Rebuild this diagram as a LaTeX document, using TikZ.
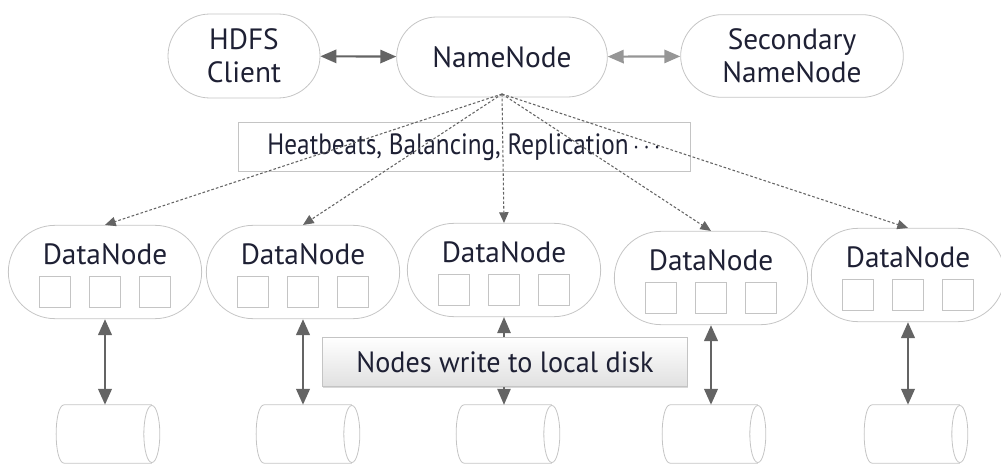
\documentclass[tikz,border=0pt]{standalone}
\usepackage{fontspec}
\setmainfont{PT Sans}
\usetikzlibrary{shapes.misc,arrows.meta,shadows}
\tikzset{every picture/.style={line width=0.75pt}}

\definecolor{rimgray}{RGB}{196,196,196}
\definecolor{darkarrow}{RGB}{100,100,100}
\definecolor{lightarrow}{RGB}{150,150,150}
\definecolor{inkblue}{RGB}{30,32,52}

\tikzset{
  pill/.style={rounded rectangle, draw=rimgray, line width=0.6pt, align=center,
    inner sep=0pt, font=\fontsize{22}{23}\selectfont, text=inkblue},
  datanode/.style={pill, minimum width=145pt, minimum height=70pt},
  slot/.style={draw=rimgray, line width=0.6pt, minimum width=23pt, minimum height=23pt, inner sep=0pt},
  disk/.style={inner sep=0pt, minimum width=65pt, minimum height=43pt},
  rim/.style={draw=rimgray, line width=0.6pt},
  notebox/.style={draw=rimgray, line width=0.6pt, inner sep=0pt,
    font=\fontsize{22}{23}\selectfont, text=inkblue},
  twoway/.style={{Triangle[width=10pt,length=12pt]}-{Triangle[width=10pt,length=12pt]}, line width=2.2pt},
  beat/.style={dash pattern=on 2pt off 1.5pt, line width=0.8pt, draw=darkarrow, -{Triangle[width=7pt,length=8pt]}}
}

\begin{document}
\begin{tikzpicture}[x=0.75pt,y=0.75pt,yscale=-1,xscale=1]
\useasboundingbox (0,0) rectangle (1001,464);

%Shape: Rounded Rect (top row)
\node [pill, minimum width=114pt, minimum height=63pt] (client) at (244,56) {HDFS\\[2pt]Client};
\node [pill, minimum width=158pt, minimum height=60pt] (nn) at (502,57) {NameNode};
\node [pill, minimum width=167pt, minimum height=62pt] (snn) at (792,56) {Secondary\\[2pt]NameNode};

%Straight Lines
\draw [twoway, draw=darkarrow, fill=darkarrow, line width=1.6pt] (client) -- (nn);
\draw [twoway, draw=lightarrow, fill=lightarrow, line width=1.6pt] (nn) -- (snn);

% Text Node
\node [notebox, minimum width=339pt, minimum height=37pt] (hb) at (464,147)
  {\scalebox{0.86}[1]{Heatbeats, Balancing, Replication\,$\cdots$}};

%Shape: DataNodes with blocks and disks
\foreach \i/\x/\y/\dx in {1/105/272/108, 2/303/272/308, 3/504/270/508, 4/711/278/714, 5/908/275/916} {
  \node [datanode] (dn\i) at (\x,\y) {};
  \node [text=inkblue, font=\fontsize{22}{23}\selectfont, inner sep=0pt] (dn\i-name) at (\x,\y-18) {DataNode};
  \foreach \k in {-1,0,1}
    \node [slot] (dn\i-s\k) at (\x+50*\k,\y+20) {};
  \node [disk] (disk\i) at (\dx,434) {};
  \draw [rim] (disk\i.north east) -- (disk\i.north west)
    .. controls +(-10.7,0) and +(-10.7,0) .. (disk\i.south west) -- (disk\i.south east);
  \draw [rim] (disk\i.east) ellipse [x radius=6pt, y radius=21.4pt];
}

%Straight Lines: heartbeats from the NameNode
\coordinate (hub) at (502,94);
\foreach \i in {1,...,5}
  \draw [beat] (hub) -- (dn\i.north);

%Straight Lines: local writes
\foreach \i in {1,2,4,5}
  \draw [twoway, draw=darkarrow, fill=darkarrow] (dn\i.south) -- (dn\i.south |- disk\i.north);
\draw [twoway, draw=darkarrow, fill=darkarrow, line width=1.2pt] (dn3.south) -- (dn3.south |- disk3.north);

% Text Node
\node [notebox, minimum width=274pt, minimum height=37pt, top color=white, bottom color=black!12,
  drop shadow={shadow xshift=0.5pt, shadow yshift=-1pt, opacity=0.3}]
  (write) at (505,362) {\scalebox{0.96}[1]{Nodes write to local disk}};

\end{tikzpicture}
\end{document}
